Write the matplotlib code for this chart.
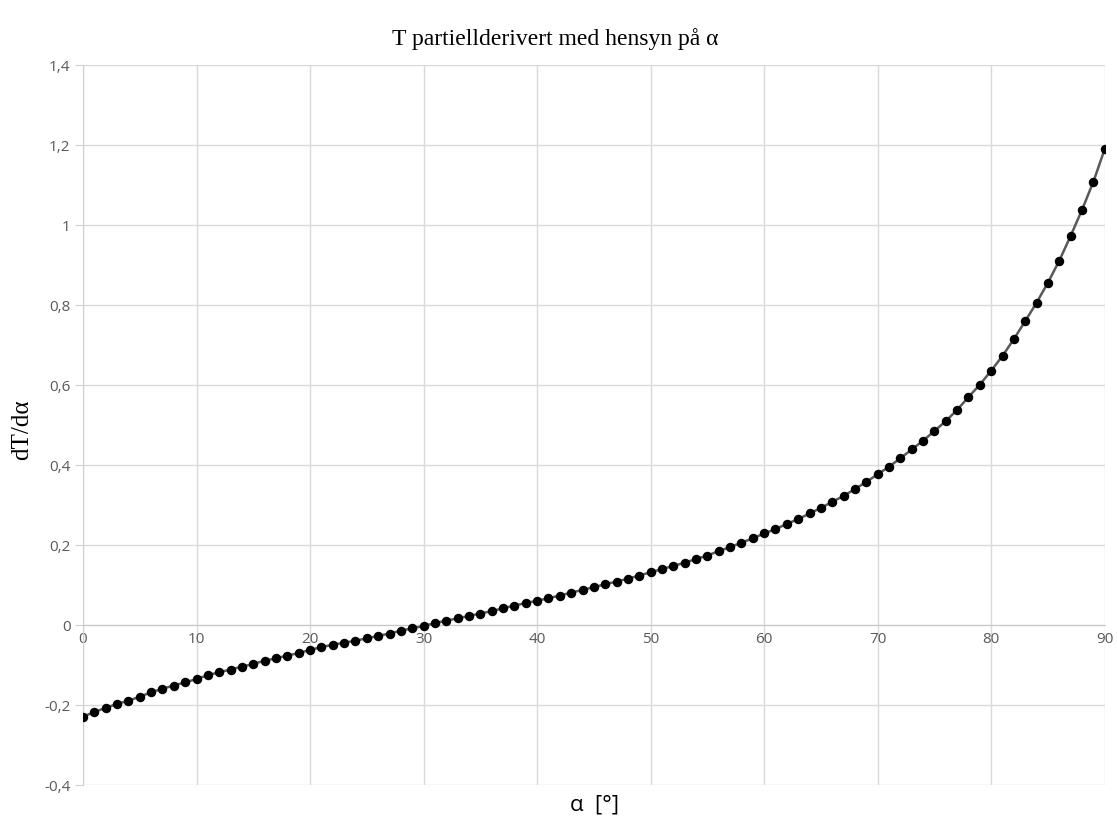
import numpy as np
import matplotlib.pyplot as plt

# data
alpha = np.arange(0, 91)
dT = [-0.229, -0.217, -0.207, -0.197, -0.189, -0.179, -0.168, -0.159, -0.151, -0.143,
      -0.135, -0.125, -0.118, -0.111, -0.104, -0.097, -0.089, -0.083, -0.076, -0.070,
      -0.062, -0.055, -0.049, -0.044, -0.039, -0.033, -0.027, -0.021, -0.014, -0.008,
      -0.002, 0.005, 0.011, 0.017, 0.023, 0.029, 0.035, 0.042, 0.049, 0.055,
      0.061, 0.067, 0.074, 0.081, 0.088, 0.095, 0.102, 0.109, 0.116, 0.124,
      0.132, 0.140, 0.148, 0.156, 0.165, 0.174, 0.185, 0.195, 0.206, 0.217,
      0.229, 0.240, 0.253, 0.265, 0.279, 0.293, 0.308, 0.323, 0.340, 0.358,
      0.377, 0.396, 0.417, 0.439, 0.461, 0.485, 0.510, 0.538, 0.570, 0.601,
      0.636, 0.673, 0.715, 0.760, 0.806, 0.856, 0.911, 0.973, 1.038, 1.108,
      1.190]

yticks = [-0.4, -0.2, 0, 0.2, 0.4, 0.6, 0.8, 1, 1.2, 1.4]
ylabels = ['-0,4', '-0,2', '0', '0,2', '0,4', '0,6', '0,8', '1', '1,2', '1,4']
xticks = [0, 10, 20, 30, 40, 50, 60, 70, 80, 90]

fig = plt.figure(figsize=(11.17, 8.23), dpi=100)
ax = fig.add_axes([0.0743, 0.046, 0.9147, 0.875])

ax.plot(alpha, dT, color='#595959', linewidth=1.8, marker='o', markersize=5.8,
        markerfacecolor='black', markeredgecolor='black', zorder=3)

ax.set_xlim(0, 90)
ax.set_ylim(-0.4, 1.4)
ax.set_yticks(yticks)
ax.set_yticklabels(ylabels)
ax.set_xticks(xticks)

ax.grid(True, color='#d9d9d9', linewidth=1)
ax.set_axisbelow(True)

for s in ['top', 'right']:
    ax.spines[s].set_visible(False)
ax.spines['left'].set_color('#d0d0d0')
ax.spines['bottom'].set_position(('data', 0))
ax.spines['bottom'].set_color('#c8c8c8')

ax.tick_params(axis='x', length=0, pad=5, labelsize=11, labelcolor='#595959')
ax.tick_params(axis='y', length=6, color='#d0d0d0', pad=3, labelsize=11, labelcolor='#595959')
for lab in ax.get_xticklabels() + ax.get_yticklabels():
    lab.set_family('Open Sans')

fig.text(0.497, 0.952, 'T partielldervert med hensyn på α'.replace('dervert', 'derivert'),
         ha='center', va='center', fontsize=17, family='Liberation Serif')
fig.text(0.02, 0.478, 'dT/dα', rotation=90, ha='center', va='center',
         fontsize=18, family='Liberation Serif')
fig.text(0.532, 0.022, 'α  [°]', ha='center', va='center', fontsize=16,
         family='Open Sans')

fig.savefig('out.png', dpi=100)
